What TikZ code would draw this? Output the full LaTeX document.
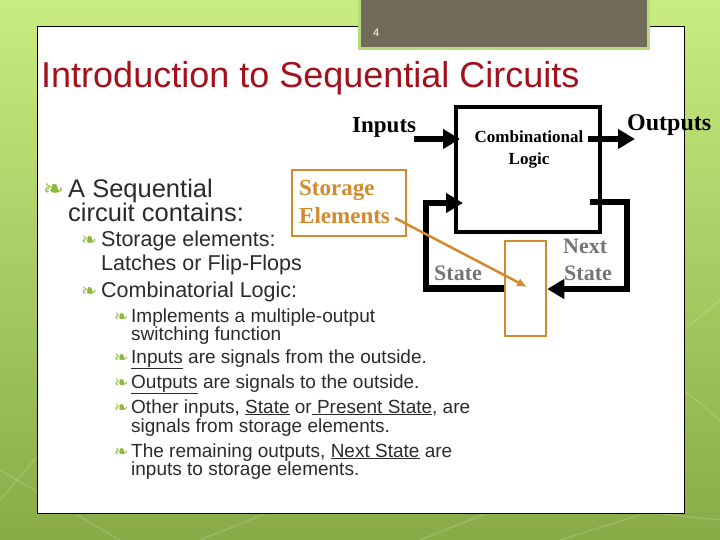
\documentclass[tikz,border=0pt]{standalone}
\usepackage{fontspec}
\setmainfont{Liberation Sans}
\newfontfamily\tnr{Liberation Serif}
\newfontfamily\djv{DejaVu Sans}
\usetikzlibrary{arrows.meta}
\definecolor{bgtop}{HTML}{C8EC80}
\definecolor{bgbot}{HTML}{88AB47}
\definecolor{pgbox}{HTML}{726A5A}
\definecolor{pgedge}{HTML}{B5DC7A}
\definecolor{titlered}{HTML}{A3111C}
\definecolor{txt}{HTML}{2B2B2B}
\definecolor{bulgreen}{HTML}{8DB83A}
\definecolor{orng}{HTML}{D38A2C}
\definecolor{graytxt}{HTML}{757575}
\tikzset{
  lvlone/.style={anchor=base west, inner sep=0pt, text=txt, font=\fontsize{25.5}{28}\selectfont},
  lvltwo/.style={anchor=base west, inner sep=0pt, text=txt, font=\fontsize{21.5}{24}\selectfont},
  lvlthree/.style={anchor=base west, inner sep=0pt, text=txt, font=\fontsize{19}{22}\selectfont},
  bulone/.style={anchor=base west, inner sep=0pt, text=bulgreen, font=\djv\fontsize{25}{26}\selectfont},
  bultwo/.style={anchor=base west, inner sep=0pt, text=bulgreen, font=\djv\fontsize{19}{20}\selectfont},
  bulthree/.style={anchor=base west, inner sep=0pt, text=bulgreen, font=\djv\fontsize{17}{18}\selectfont},
  serifb/.style={inner sep=0pt, font=\tnr\bfseries\fontsize{23}{26}\selectfont},
  fat/.style={line width=6.5pt, line join=miter, -{Triangle[length=17pt,width=19pt]}},
  bgline/.style={draw=white, opacity=0.18, line width=1.2pt},
}
\begin{document}
\begin{tikzpicture}[x=1pt,y=-1pt]
\useasboundingbox (0,0) rectangle (720,540);
% background
\shade[top color=bgtop, bottom color=bgbot] (0,0) rectangle (720,540);
\draw[bgline] (0,470) -- (120,540);
\draw[bgline] (0,500) -- (60,430);
\draw[bgline] (200,540) -- (300,500);
\draw[bgline] (420,540) -- (520,500) -- (720,520);
\draw[bgline] (684,330) -- (720,300);
\draw[bgline] (684,390) -- (720,420);
\draw[bgline] (560,540) -- (640,515);
% panel
\draw[fill=white, line width=1pt] (37,27) rectangle (684,513);
% page number box
\draw[fill=pgbox, draw=pgedge, line width=3pt] (359,-5) rectangle (648,49);
\node[anchor=base west, inner sep=0pt, text=white, font=\fontsize{11}{12}\selectfont] (pgnum) at (373,37) {4};
% title
\node[anchor=base west, inner sep=0pt, text=titlered, font=\fontsize{36}{40}\selectfont] (title) at (41,88) {Introduction to Sequential Circuits};

% bullets level 1
\node[bulone] (b1) at (43,197) {❧};
\node[lvlone] (t1) at (68,197) {A Sequential};
\node[lvlone] (t1b) at (68,222) {circuit contains:};
% level 2
\node[bultwo] (b2a) at (81,247) {❧};
\node[lvltwo] (t2a) at (101,247) {Storage elements:};
\node[lvltwo] (t2b) at (101,270) {Latches or Flip-Flops};
\node[bultwo] (b2c) at (81,297) {❧};
\node[lvltwo] (t2c) at (101,297) {Combinatorial Logic:};
% level 3
\node[bulthree] (b3a) at (114,322) {❧};
\node[lvlthree] (t3a) at (131,322) {Implements a multiple-output};
\node[lvlthree] (t3b) at (131,340) {switching function};
\node[bulthree] (b3c) at (114,363) {❧};
\node[lvlthree] (t3c) at (131,363) {\underline{Inputs} are signals from the outside.};
\node[bulthree] (b3d) at (114,388) {❧};
\node[lvlthree] (t3d) at (131,388) {\underline{Outputs} are signals to the outside.};
\node[bulthree] (b3e) at (114,413) {❧};
\node[lvlthree] (t3e) at (131,413) {Other inputs, \underline{State} or\underline{\ Present State}, are};
\node[lvlthree] (t3f) at (131,432) {signals from storage elements.};
\node[bulthree] (b3g) at (114,457) {❧};
\node[lvlthree] (t3g) at (131,457) {The remaining outputs, \underline{Next State} are};
\node[lvlthree] (t3h) at (131,475) {inputs to storage elements.};

% diagram
\node[draw, line width=3.5pt, minimum width=144pt, minimum height=125pt, inner sep=0pt] (comb) at (528,169.5) {};
\node[inner sep=0pt, anchor=base, font=\tnr\bfseries\fontsize{17}{19}\selectfont] (cl1) at (529,143) {Combinational};
\node[inner sep=0pt, anchor=base, font=\tnr\bfseries\fontsize{17}{19}\selectfont] (cl2) at (529,165) {Logic};

\node[draw=orng, line width=2.5pt, minimum width=41pt, minimum height=95pt, inner sep=0pt] (stor) at (525.5,288.5) {};

\node[serifb, anchor=base west] (inl) at (352,133) {Inputs};
\node[serifb, anchor=base west, font=\tnr\bfseries\fontsize{24}{26}\selectfont] (outl) at (627,131) {Outputs};
\node[serifb, anchor=base west, text=graytxt, font=\tnr\bfseries\fontsize{22}{24}\selectfont] (stl) at (434,280) {State};
\node[serifb, anchor=base west, text=graytxt, font=\tnr\bfseries\fontsize{22}{24}\selectfont] (nsl1) at (563,253) {Next};
\node[serifb, anchor=base west, text=graytxt, font=\tnr\bfseries\fontsize{22}{24}\selectfont] (nsl2) at (564,280) {State};

\draw[draw=orng, line width=1.3pt, fill=white] (292,170) rectangle (406,236);
\node[serifb, anchor=base west, text=orng] (se1) at (299,196) {Storage};
\node[serifb, anchor=base west, text=orng] (se2) at (299,223) {Elements};

\coordinate (inA) at (414,139);
\coordinate (inB) at (460,139);
\coordinate (outA) at (588,139);
\coordinate (outB) at (635,139);
\coordinate (stIn) at (463,203);
\coordinate (nsOut) at (590,202);
\coordinate (orA) at (395,218);
\coordinate (orB) at (527,287);

\draw[fat] (inA) -- (inB);
\draw[fat] (outA) -- (outB);
\draw[fat] (stor.west) -- (426,288.5) -- (426,203) -- (stIn);
\draw[fat] (nsOut) -- (627,202) -- (627,289) -- (stor.east |- 0,289);
\draw[draw=orng, line width=2.5pt, -{Latex[length=10pt,width=9pt]}] (orA) -- (orB);
\end{tikzpicture}
\end{document}
